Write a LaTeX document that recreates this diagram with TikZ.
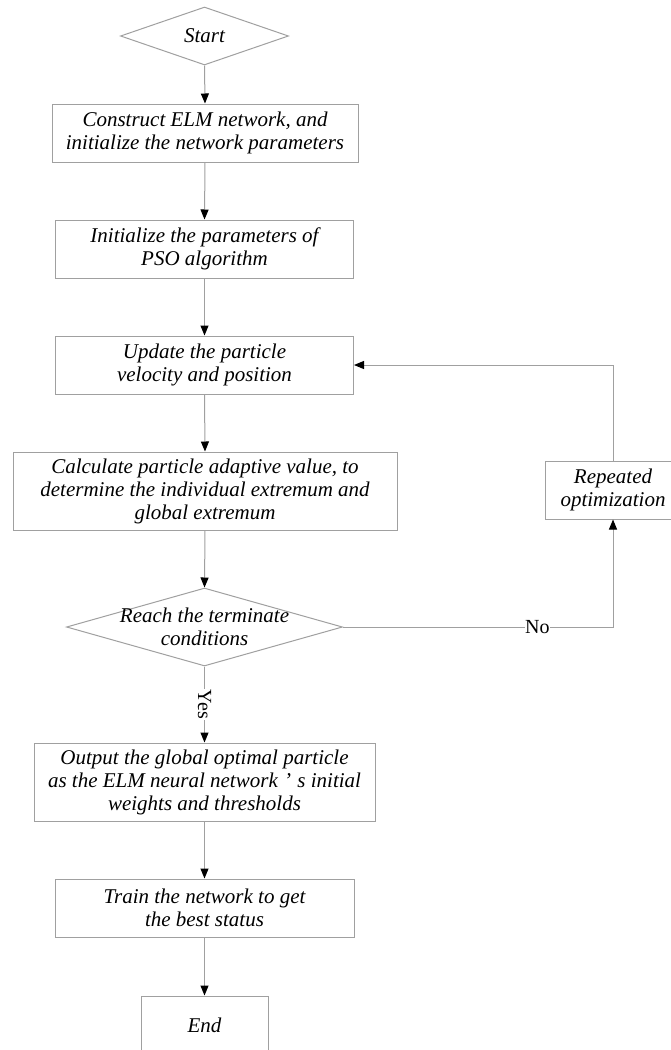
\documentclass[tikz,border=0pt]{standalone}
\usepackage{fontspec}
\setmainfont{Liberation Serif}
\usetikzlibrary{shapes.geometric,arrows.meta}
\definecolor{linegray}{RGB}{160,160,160}
\begin{document}
\begin{tikzpicture}[x=1pt,y=-1pt,
  every node/.style={font=\fontsize{21}{23}\selectfont\itshape},
  box/.style={draw=linegray,line width=1pt,rectangle,inner sep=0pt,align=center},
  dia/.style={draw=linegray,line width=1pt,diamond,inner sep=0pt},
  txt/.style={inner sep=0pt,align=center},
  lbl/.style={font=\fontsize{20}{23}\selectfont\upshape,fill=white,inner sep=0.5pt},
  arr/.style={draw=linegray,line width=1pt,-{Triangle[color=black,length=10pt,width=8pt]}},
  ln/.style={draw=linegray,line width=1pt}]
\useasboundingbox (0,0) rectangle (671,1050);
\clip (0,0) rectangle (671,1050);
\fill[white] (0,0) rectangle (671,1050);

\node[dia,minimum width=168pt,minimum height=58pt] (start) at (204.5,36) {};
\node[txt] (starttxt) at (start.center) {Start};

\node[box,minimum width=306pt,minimum height=58pt] (b1) at (205,133)
  {Construct ELM network, and\\initialize the network parameters};
\node[box,minimum width=298pt,minimum height=58pt] (b2) at (204.5,249)
  {Initialize the parameters of\\PSO algorithm};
\node[box,minimum width=298pt,minimum height=58pt] (b3) at (204.5,365)
  {Update the particle\\velocity and position};
\node[box,minimum width=384pt,minimum height=78pt] (b4) at (205,491)
  {Calculate particle adaptive value, to\\determine the individual extremum and\\global extremum};
\node[box,minimum width=126pt,minimum height=58pt] (rep) at (608,490)
  {\hspace*{10pt}Repeated\\\hspace*{10pt}optimization};

\node[dia,minimum width=276pt,minimum height=78pt] (dec) at (204.5,627) {};
\node[txt] (dectxt) at (dec.center) {Reach the terminate\\conditions};

\node[box,minimum width=341pt,minimum height=78pt] (out) at (204.5,782)
  {Output the global optimal particle\\as the ELM neural network\hspace{0.3em}’\hspace{0.3em}s initial\\weights and thresholds};
\node[box,minimum width=299pt,minimum height=58pt] (train) at (204.5,908)
  {Train the network to get\\the best status};
\node[box,minimum width=127pt,minimum height=64pt] (end) at (204.5,1028) {};
\node[txt] (endtxt) at (204.5,1025) {End};

\coordinate (lx) at (613,0);

\draw[arr] (start.south) -- (b1.north);
\draw[arr] (b1.south) -- (b2.north);
\draw[arr] (b2.south) -- (b3.north);
\draw[arr] (b3.south) -- (b4.north);
\draw[arr] (b4.south) -- (dec.north);
\draw[arr] (dec.south) -- node[lbl,rotate=-90] {Yes} (out.north);
\draw[arr] (out.south) -- (train.north);
\draw[arr] (train.south) -- (end.north);
\draw[arr] (dec.east) -- node[lbl,pos=0.72] {No} (dec.east -| lx) -- (rep.south -| lx);
\draw[arr] (rep.north -| lx) -- (b3.east -| lx) -- (b3.east);
\end{tikzpicture}
\end{document}
